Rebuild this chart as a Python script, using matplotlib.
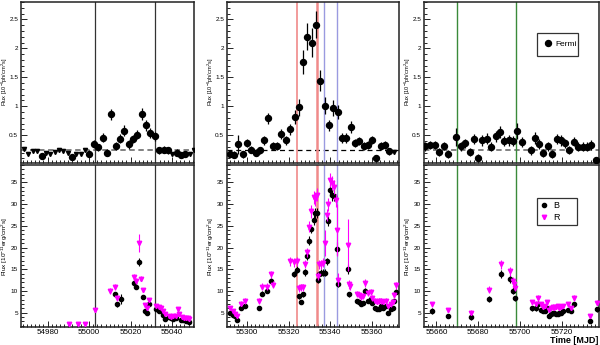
import matplotlib
matplotlib.use("Agg")
import matplotlib.pyplot as plt
from matplotlib.ticker import MultipleLocator, FuncFormatter

plt.rcParams['font.family'] = ['Liberation Sans', 'DejaVu Sans']
plt.rcParams['mathtext.fontset'] = 'custom'
plt.rcParams['mathtext.rm'] = 'Liberation Sans'
plt.rcParams['mathtext.it'] = 'Liberation Sans'

# Fermi, period 1 ###############################################################
f1_t = [54977.1, 54991.8, 55000.2, 55002.3, 55004.4, 55006.5, 55008.6, 55010.7,
        55012.8, 55014.9, 55017.0, 55019.1, 55021.2, 55023.3, 55025.4, 55027.5,
        55029.6, 55031.7, 55033.8, 55035.9, 55038.0, 55042.2, 55044.3, 55046.4]
f1_flux = [0.14, 0.12, 0.18, 0.35, 0.29, 0.46, 0.20, 0.86, 0.31, 0.44, 0.58, 0.34,
           0.43, 0.51, 0.87, 0.67, 0.54, 0.48, 0.24, 0.25, 0.24, 0.20, 0.16, 0.18]
f1_err = [0.05, 0.05, 0.06, 0.07, 0.06, 0.08, 0.06, 0.10, 0.07, 0.08, 0.09, 0.07,
          0.07, 0.08, 0.10, 0.09, 0.08, 0.08, 0.06, 0.06, 0.06, 0.06, 0.05, 0.05]
f1_ul_t = [54968.7, 54970.8, 54972.9, 54975.0, 54979.2, 54981.3, 54983.4, 54985.5,
           54987.6, 54989.7, 54993.9, 54996.0, 54998.1, 55040.1, 55048.5, 55050.4]
f1_ul = [0.27, 0.18, 0.22, 0.22, 0.20, 0.18, 0.21, 0.24,
         0.22, 0.20, 0.17, 0.18, 0.25, 0.17, 0.18, 0.25]

# Fermi, period 2
f2_t = [55291.8, 55293.9, 55295.9, 55298.0, 55300.1, 55302.2, 55304.2, 55306.3,
        55308.4, 55310.4, 55312.5, 55314.6, 55316.6, 55318.7, 55320.8, 55322.9,
        55324.9, 55327.0, 55329.1, 55331.1, 55333.2, 55335.3, 55337.3, 55339.4,
        55341.5, 55343.6, 55345.6, 55347.7, 55349.8, 55351.8, 55353.9, 55356.0,
        55358.0, 55360.1, 55362.2, 55364.3, 55366.3, 55368.4]
f2_flux = [0.18, 0.16, 0.34, 0.17, 0.36, 0.25, 0.20, 0.24, 0.41, 0.79, 0.31, 0.31,
           0.52, 0.41, 0.60, 0.82, 0.98, 1.76, 2.20, 2.10, 2.41, 1.44, 1.01, 0.67,
           0.97, 0.90, 0.45, 0.45, 0.64, 0.36, 0.40, 0.31, 0.33, 0.41, 0.11, 0.31,
           0.33, 0.22]
f2_err = [0.06, 0.06, 0.16, 0.06, 0.07, 0.06, 0.06, 0.06, 0.08, 0.10, 0.07, 0.07,
          0.09, 0.08, 0.10, 0.12, 0.14, 0.21, 0.23, 0.25, 0.23, 0.18, 0.15, 0.10,
          0.13, 0.12, 0.08, 0.08, 0.10, 0.07, 0.07, 0.07, 0.07, 0.07, 0.05, 0.07,
          0.07, 0.06]
f2_ul_t = [55370.5]
f2_ul = [0.21]

# Fermi, period 3
f3_t = [55654.7, 55657.1, 55659.2, 55661.3, 55663.5, 55665.6, 55669.6, 55671.7,
        55673.9, 55676.0, 55677.9, 55680.0, 55682.1, 55684.3, 55686.4, 55688.5,
        55690.4, 55692.5, 55694.7, 55696.8, 55698.7, 55700.8, 55705.1, 55707.2,
        55709.3, 55711.2, 55713.3, 55715.5, 55717.6, 55719.7, 55721.6, 55723.7,
        55725.9, 55728.0, 55730.1, 55732.0, 55734.1, 55736.3]
f3_flux = [0.31, 0.33, 0.33, 0.21, 0.31, 0.17, 0.47, 0.31, 0.36, 0.21, 0.43, 0.11,
           0.41, 0.44, 0.30, 0.48, 0.56, 0.40, 0.41, 0.40, 0.57, 0.38, 0.24, 0.45,
           0.35, 0.20, 0.31, 0.18, 0.43, 0.41, 0.36, 0.24, 0.39, 0.30, 0.30, 0.30,
           0.33, 0.08]
f3_err = [0.08, 0.07, 0.07, 0.07, 0.07, 0.07, 0.15, 0.08, 0.08, 0.07, 0.09, 0.06,
          0.09, 0.09, 0.08, 0.10, 0.10, 0.09, 0.09, 0.09, 0.14, 0.09, 0.08, 0.10,
          0.09, 0.07, 0.08, 0.07, 0.09, 0.09, 0.08, 0.07, 0.08, 0.08, 0.08, 0.08,
          0.08, 0.05]

# optical B and R, period 1 ######################################################
b1_t = [55012.4, 55013.5, 55015.6, 55021.9, 55022.8, 55024.0, 55026.0, 55026.9,
        55028.0, 55029.1, 55032.5, 55033.6, 55034.7, 55035.7, 55036.5, 55038.4,
        55039.6, 55040.5, 55041.7, 55044.1, 55045.2, 55046.7, 55047.6, 55048.4]
b1_flux = [9.2, 6.9, 8.2, 11.9, 10.9, 16.7, 8.6, 5.4, 5.0, 7.1, 5.8, 5.4,
           5.4, 4.5, 3.5, 4.0, 3.7, 3.5, 3.7, 3.2, 3.2, 3.1, 3.1, 2.9]
b1_err = [0.6, 0.5, 1.2, 0.6, 0.5, 1.0, 0.5, 0.4, 0.4, 0.5, 0.4, 0.4,
          0.4, 0.4, 0.3, 0.3, 0.3, 0.3, 0.3, 0.3, 0.3, 0.3, 0.3, 0.3]
r1_t = [54990.5, 54994.5, 54998.2, 55003.0, 55010.3, 55012.4, 55013.5, 55021.9,
        55022.8, 55024.0, 55025.2, 55026.0, 55027.2, 55028.0, 55029.1, 55032.5,
        55033.6, 55034.7, 55035.7, 55036.5, 55038.4, 55039.6, 55040.5, 55041.7,
        55042.8, 55043.6, 55044.6, 55045.7, 55046.7, 55047.6, 55048.4]
r1_flux = [2.5, 2.5, 2.5, 5.6, 10.0, 10.9, 8.4, 13.2, 12.3, 21.0, 12.8, 10.2,
           6.7, 6.0, 7.9, 6.5, 6.3, 6.0, 5.4, 4.8, 4.2, 4.1, 4.2, 4.2,
           5.8, 4.8, 3.9, 3.7, 3.7, 3.7, 3.5]
r1_err = [0.3, 0.3, 0.3, 0.5, 0.6, 0.6, 0.6, 0.6, 0.6, 2.0, 0.6, 0.5,
          0.5, 0.5, 0.5, 0.5, 0.5, 0.5, 0.4, 0.4, 0.4, 0.4, 0.4, 0.4,
          0.5, 0.4, 0.4, 0.4, 0.4, 0.4, 0.4]

# period 2
b2_t = [55291.8, 55293.2, 55294.2, 55295.3, 55297.2, 55299.3, 55305.7, 55307.2,
        55309.6, 55311.6, 55322.7, 55324.0, 55324.8, 55325.9, 55326.9, 55328.0,
        55328.8, 55329.9, 55330.9, 55332.0, 55332.8, 55333.6, 55334.0, 55334.7,
        55335.5, 55336.4, 55337.5, 55338.3, 55339.1, 55339.9, 55341.1, 55341.9,
        55343.1, 55343.9, 55348.4, 55349.2, 55352.7, 55353.8, 55354.8, 55355.9,
        55356.7, 55358.3, 55359.4, 55360.2, 55361.5, 55362.3, 55363.4, 55364.3,
        55365.5, 55366.6, 55367.9, 55369.0, 55369.9, 55370.7, 55371.8]
b2_flux = [5.0, 4.5, 4.2, 3.2, 6.0, 6.5, 6.0, 9.4, 10.1, 12.3, 13.8, 14.9,
           8.8, 7.5, 9.2, 14.3, 18.0, 21.6, 24.3, 26.4, 28.0, 28.0, 12.6, 13.8,
           14.2, 14.2, 14.2, 16.8, 26.1, 33.2, 32.1, 31.9, 19.7, 11.6, 15.1, 9.2,
           7.7, 7.5, 7.1, 7.3, 10.0, 7.7, 8.2, 7.3, 6.0, 5.8, 5.9, 6.5,
           6.1, 6.5, 5.0, 5.8, 6.1, 7.7, 9.8]
b2_err = [0.4, 0.4, 0.4, 0.3, 0.4, 0.4, 0.4, 0.6, 0.6, 0.7, 0.7, 0.8,
          0.6, 0.5, 0.6, 0.8, 0.9, 1.0, 1.0, 1.1, 1.2, 1.2, 0.7, 0.7,
          0.8, 0.8, 0.8, 0.9, 1.2, 1.3, 1.3, 1.3, 1.5, 0.7, 1.2, 0.6,
          0.5, 0.5, 0.5, 0.5, 0.6, 0.5, 0.5, 0.5, 0.4, 0.4, 0.4, 0.4,
          0.4, 0.4, 0.4, 0.4, 0.4, 0.5, 0.6]
r2_t = [55291.8, 55293.2, 55294.2, 55295.3, 55297.2, 55299.3, 55305.7, 55307.2,
        55309.6, 55311.6, 55312.5, 55320.8, 55322.7, 55324.0, 55324.8, 55325.9,
        55326.9, 55328.0, 55328.8, 55329.9, 55330.9, 55332.0, 55332.8, 55333.6,
        55334.0, 55334.7, 55335.5, 55336.4, 55337.5, 55338.3, 55339.1, 55339.9,
        55341.1, 55341.9, 55342.8, 55343.1, 55343.9, 55348.4, 55349.2, 55349.5,
        55352.7, 55353.8, 55354.8, 55355.9, 55356.7, 55358.3, 55359.4, 55360.2,
        55361.5, 55362.3, 55363.4, 55364.3, 55365.5, 55366.6, 55367.9, 55369.0,
        55369.9, 55370.7, 55371.8]
r2_flux = [6.0, 5.4, 4.8, 4.2, 7.1, 7.7, 7.7, 11.0, 11.0, 13.8, 11.4, 16.8,
           16.6, 16.8, 10.6, 10.9, 10.9, 16.2, 18.9, 24.8, 28.3, 31.6, 31.1, 32.1,
           13.4, 16.1, 16.1, 16.5, 21.0, 27.4, 30.0, 35.5, 34.8, 34.0, 30.9, 24.1,
           12.6, 20.6, 11.5, 11.1, 9.2, 9.0, 8.7, 8.8, 11.9, 9.6, 9.7, 8.4,
           7.8, 7.5, 7.7, 7.7, 7.5, 7.8, 6.5, 6.9, 7.5, 9.0, 11.3]
r2_err = [0.5, 0.5, 0.5, 0.4, 0.6, 0.6, 0.6, 0.8, 0.8, 0.9, 0.8, 1.0,
          1.0, 1.0, 0.8, 0.8, 0.8, 1.0, 1.1, 1.3, 1.4, 1.5, 1.5, 1.5,
          0.9, 1.0, 1.0, 1.0, 3.0, 1.4, 1.5, 1.6, 1.6, 1.6, 1.5, 6.0,
          1.5, 6.0, 1.0, 0.9, 0.7, 0.7, 0.7, 0.7, 0.9, 0.7, 0.7, 0.7,
          0.6, 0.6, 0.6, 0.6, 0.6, 0.6, 0.5, 0.6, 0.6, 0.7, 0.8]

# period 3
b3_t = [55658.1, 55665.6, 55676.8, 55685.3, 55691.2, 55695.2, 55696.5, 55697.6,
        55705.6, 55707.7, 55708.8, 55709.9, 55710.9, 55712.0, 55713.1, 55713.9,
        55714.7, 55715.7, 55716.5, 55717.3, 55718.1, 55718.9, 55719.7, 55720.8,
        55723.2, 55724.3, 55726.1, 55733.6, 55736.8]
b3_flux = [5.4, 4.2, 3.9, 8.2, 13.9, 12.8, 10.1, 8.3, 6.0, 6.0, 7.1, 5.6,
           5.4, 5.4, 6.0, 4.2, 4.6, 5.0, 5.0, 4.8, 4.8, 5.0, 5.0, 5.4,
           5.6, 5.4, 6.9, 3.1, 5.8]
b3_err = [0.6, 0.5, 0.5, 0.7, 1.0, 0.9, 0.7, 0.6, 0.6, 0.6, 0.6, 0.5,
          0.5, 0.5, 0.5, 0.4, 0.4, 0.4, 0.4, 0.4, 0.4, 0.4, 0.4, 0.5,
          0.5, 0.5, 0.6, 0.4, 0.6]
r3_t = [55658.1, 55665.6, 55676.8, 55685.3, 55691.2, 55695.2, 55696.5, 55697.1,
        55697.6, 55705.6, 55707.7, 55708.8, 55709.9, 55710.9, 55712.0, 55713.1,
        55713.9, 55714.7, 55715.7, 55716.5, 55717.3, 55718.1, 55718.9, 55719.7,
        55720.8, 55723.2, 55724.3, 55726.1, 55733.6, 55736.8]
r3_flux = [6.9, 5.6, 5.0, 10.3, 16.1, 14.5, 12.4, 11.5, 10.7, 7.4, 7.1, 8.4,
           6.9, 6.3, 6.5, 7.4, 5.6, 6.1, 6.4, 6.1, 6.4, 6.5, 6.1, 6.4,
           6.5, 6.9, 6.1, 8.3, 4.2, 7.3]
r3_err = [0.6, 0.5, 0.5, 0.8, 1.1, 1.0, 0.9, 0.8, 0.8, 0.6, 0.6, 0.6,
          0.5, 0.5, 0.5, 0.6, 0.5, 0.5, 0.5, 0.5, 0.5, 0.5, 0.5, 0.5,
          0.5, 0.6, 0.5, 0.7, 0.5, 0.6]

periods = [(54967.2, 55050.6), (55290.5, 55373.0), (55654.1, 55737.9)]
xticks = [[54980, 55000, 55020, 55040], [55300, 55320, 55340, 55360],
          [55660, 55680, 55700, 55720]]
baseline = 0.25
lines1 = [55002.7, 55032.0]
red2 = [55324.0, 55333.6]
blue2 = [55336.8, 55343.1]
green3 = [55670.1, 55698.1]

fermi = [(f1_t, f1_flux, f1_err, f1_ul_t, f1_ul),
         (f2_t, f2_flux, f2_err, f2_ul_t, f2_ul),
         (f3_t, f3_flux, f3_err, [], [])]
optical = [(b1_t, b1_flux, b1_err, r1_t, r1_flux, r1_err),
           (b2_t, b2_flux, b2_err, r2_t, r2_flux, r2_err),
           (b3_t, b3_flux, b3_err, r3_t, r3_flux, r3_err)]

# layout #########################################################################
W, H = 600, 345
fig = plt.figure(figsize=(W / 100, H / 100), dpi=100)
lefts = [21, 227, 424]
widths = [173, 172, 175]
mag = '#ff00ff'
g = FuncFormatter(lambda v, p: '%g' % v)

for k in range(3):
    axt = fig.add_axes([lefts[k] / W, 1 - 163 / H, widths[k] / W, 161 / H])
    axb = fig.add_axes([lefts[k] / W, 1 - 327 / H, widths[k] / W, 162 / H])

    t, f, e, ult, ul = fermi[k]
    hf = axt.errorbar(t, f, yerr=e, fmt='o', color='black', ms=4.3, elinewidth=0.9,
                      capsize=0, zorder=3)
    if ult:
        axt.plot(ult, ul, 'v', color='black', ms=3, zorder=3)
    axt.axhline(baseline, color='black' if k == 1 else '#777777', ls='--',
                lw=0.9 if k == 1 else 1.3, dashes=(4, 3) if k == 1 else (3, 2))

    bt, bf, be, rt, rf, re = optical[k]
    hb = axb.errorbar(bt, bf, yerr=be, fmt='o', color='black', ms=3, elinewidth=0.8,
                      capsize=0, zorder=3)
    hr = axb.errorbar(rt, rf, yerr=re, fmt='v', color=mag, ms=3.2, elinewidth=0.8,
                      capsize=0, zorder=4)

    for ax in (axt, axb):
        if k == 0:
            for x in lines1:
                ax.axvline(x, color='#333333', lw=0.9)
        elif k == 1:
            ax.axvline(red2[0], color='#f08a8a', lw=1.2)
            ax.axvline(red2[1], color='#f08a8a', lw=1.8)
            for x in blue2:
                ax.axvline(x, color='#9a9ae0', lw=1.0)
        else:
            for x in green3:
                ax.axvline(x, color='#3a8a3a', lw=1.0)
        ax.set_xlim(periods[k])
        ax.set_xticks(xticks[k])
        ax.xaxis.set_minor_locator(MultipleLocator(2))
        ax.tick_params(which='both', direction='in', top=False, right=False,
                       width=0.6)
        ax.tick_params(which='major', length=4)
        ax.tick_params(which='minor', length=2)
        ax.tick_params(axis='y', labelsize=4.6, pad=2)
        ax.tick_params(axis='x', labelsize=5.8, pad=1.2)
        for s in ax.spines.values():
            s.set_linewidth(1.1)
            s.set_color('#222222')

    axt.set_ylim(0.02, 2.8)
    axt.set_yticks([0.5, 1, 1.5, 2, 2.5])
    axt.yaxis.set_major_formatter(g)
    axt.yaxis.set_minor_locator(MultipleLocator(0.1))
    axt.tick_params(axis='x', labelbottom=False)

    axb.set_ylim(1.7, 39)
    axb.set_yticks([5, 10, 15, 20, 25, 30, 35])
    axb.yaxis.set_minor_locator(MultipleLocator(1))

    xl = (lefts[k] - 16.3) / W
    fig.text(xl, 1 - 82 / H, r'Flux [10$^{-6}$ph/cm$^{2}$s]', rotation=90,
             ha='center', va='center', fontsize=4.1)
    fig.text(xl, 1 - 246 / H, r'Flux [10$^{-11}$erg/cm$^{2}$s]', rotation=90,
             ha='center', va='center', fontsize=4.6)

    if k == 2:
        lt = axt.legend([hf[0]], ['Fermi'], loc='upper left',
                        bbox_to_anchor=(0.646, 0.807, 0.234, 0.0), mode='expand',
                        fontsize=6, frameon=True, fancybox=False, handlelength=0.8,
                        handletextpad=0.5, borderpad=0.9, borderaxespad=0)
        lt.get_frame().set_edgecolor('black')
        lt.get_frame().set_linewidth(0.9)
        lb = axb.legend([hb[0], hr[0]], ['B', 'R'], loc='upper left',
                        bbox_to_anchor=(0.646, 0.796, 0.229, 0.0), mode='expand',
                        fontsize=6.5, frameon=True, fancybox=False, handlelength=0.8,
                        handletextpad=0.6, borderpad=0.35, labelspacing=0.3,
                        borderaxespad=0)
        lb.get_frame().set_edgecolor('black')
        lb.get_frame().set_linewidth(0.9)

fig.text(0.997, 1 - 340.5 / H, 'Time [MJD]', ha='right', va='center',
         fontsize=6.5, fontweight='bold')

fig.savefig('out.png', dpi=100)
